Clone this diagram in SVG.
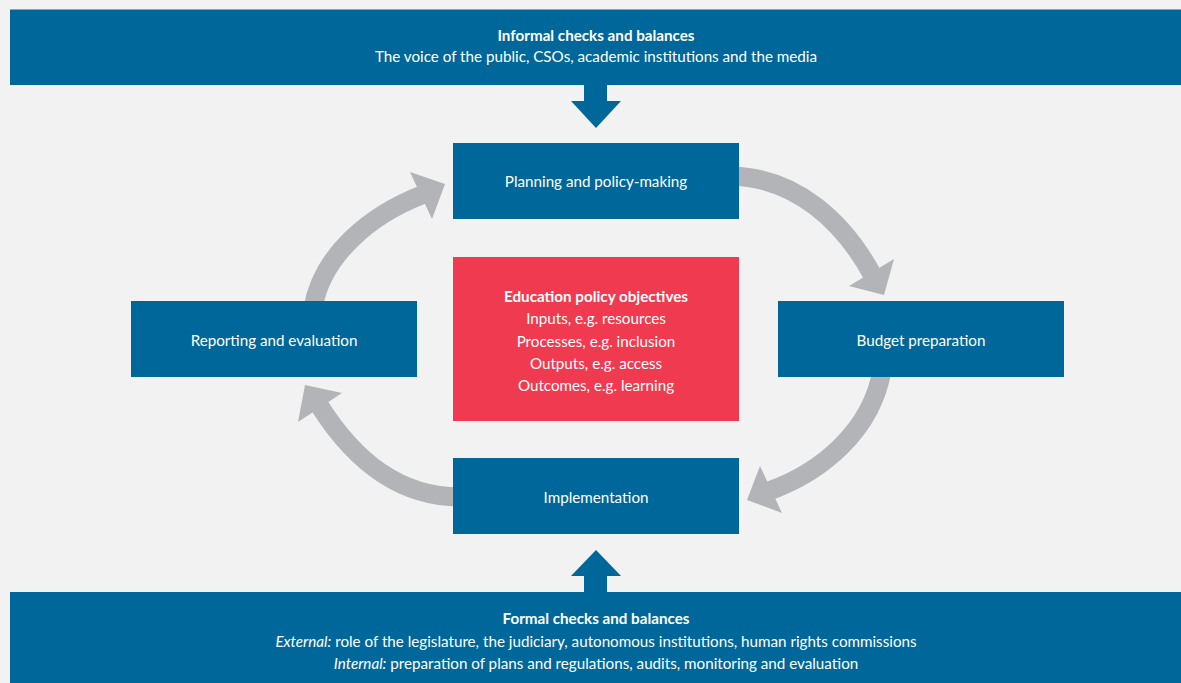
<svg xmlns="http://www.w3.org/2000/svg" width="1181" height="683" viewBox="0 0 1181 683">
<style>
.blue{fill:#00679a}
.red{fill:#ef3a4f}
.band{fill:none;stroke:#b3b4b8;stroke-width:19}
.head{fill:#b3b4b8}
text{font-family:Lato,"Open Sans","Liberation Sans",sans-serif;font-size:15.2px;fill:#ffffff;text-anchor:middle}
.b{font-weight:bold}
.i{font-style:italic}
</style>
<rect width="1181" height="683" fill="#f1f2f1"/>
<g id="connectors">
<path class="band" d="M730,176 C796,177 844,222 873,276"/>
<polygon class="head" points="849,286 894,259 884,295"/>
<path class="band" d="M882,370 C872,430 822,472 769,491"/>
<polygon class="head" points="760,466 782,513 747,500"/>
<path class="band" d="M460,497 C400,497 355,462 319,405"/>
<polygon class="head" points="342,393 298,422 305,385"/>
<path class="band" d="M313,308 C322,255 370,215 423,194.5"/>
<polygon class="head" points="410,172 432,219 445,184"/>
<polygon class="blue" points="584,84 607,84 607,101 621,101 596,128 571,101 584,101"/>
<polygon class="blue" points="584,593 607,593 607,576 621,576 596,550 571,576 584,576"/>
</g>
<g id="informal">
<rect class="blue" x="10" y="9.5" width="1171" height="75.5"/>
<text class="b" x="596" y="40.5">Informal checks and balances</text>
<text x="596" y="62">The voice of the public, CSOs, academic institutions and the media</text>
</g>
<g id="planning">
<rect class="blue" x="453" y="143" width="286" height="76"/>
<text x="596" y="187">Planning and policy-making</text>
</g>
<g id="objectives">
<rect class="red" x="453" y="257" width="286" height="164"/>
<text class="b" x="596" y="302">Education policy objectives</text>
<text x="596" y="324">Inputs, e.g. resources</text>
<text x="596" y="346.5">Processes, e.g. inclusion</text>
<text x="596" y="369">Outputs, e.g. access</text>
<text x="596" y="391">Outcomes, e.g. learning</text>
</g>
<g id="reporting">
<rect class="blue" x="131" y="301" width="286" height="76"/>
<text x="274" y="345.5">Reporting and evaluation</text>
</g>
<g id="budget">
<rect class="blue" x="778" y="301" width="286" height="76"/>
<text x="921" y="345.5">Budget preparation</text>
</g>
<g id="implementation">
<rect class="blue" x="453" y="458" width="286" height="76"/>
<text x="596" y="502.5">Implementation</text>
</g>
<g id="formal">
<rect class="blue" x="10" y="592" width="1171" height="91"/>
<text class="b" x="596" y="624">Formal checks and balances</text>
<text x="596" y="647"><tspan class="i">External:</tspan> role of the legislature, the judiciary, autonomous institutions, human rights commissions</text>
<text x="596" y="669"><tspan class="i">Internal:</tspan> preparation of plans and regulations, audits, monitoring and evaluation</text>
</g>
</svg>
